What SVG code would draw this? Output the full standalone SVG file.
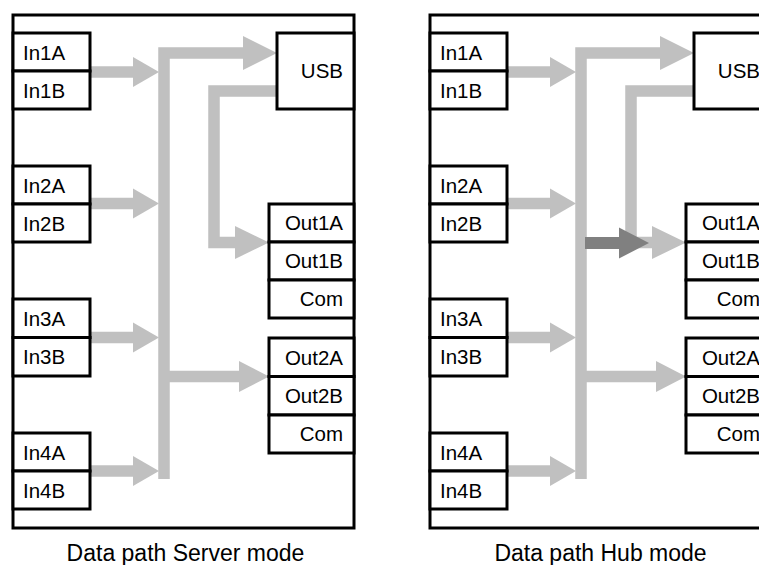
<svg xmlns="http://www.w3.org/2000/svg" width="759" height="565" viewBox="0 0 759 565">
<style>
.frame{fill:#fff;stroke:#000;stroke-width:3}
.box{fill:#fff;stroke:#000;stroke-width:3}
.bus{fill:none;stroke:#c0c0c0;stroke-width:11.5;stroke-linejoin:miter;stroke-linecap:butt}
.head{fill:#c0c0c0}
.dark{fill:none;stroke:#808080;stroke-width:12}
.darkhead{fill:#808080}
.lbl{font-family:"Liberation Sans",Arial,sans-serif;font-size:20.5px;fill:#000}
.end{text-anchor:end}
.cap{font-family:"Liberation Sans",Arial,sans-serif;font-size:23px;fill:#000;text-anchor:middle}
</style>
<rect width="759" height="565" fill="#fff"/>

<!-- Server mode diagram -->
<g id="server">
  <rect class="frame" x="13" y="15" width="341" height="513"/>
  <g id="s-connectors">
    <polyline class="bus" points="164,479 164,53 244,53"/>
    <polygon class="head" points="243,36 277,53 243,70"/>
    <line class="bus" x1="90" y1="72" x2="134" y2="72"/>
    <polygon class="head" points="133,57 159,72 133,87"/>
    <line class="bus" x1="90" y1="203.5" x2="134" y2="203.5"/>
    <polygon class="head" points="133,188.5 159,203.5 133,218.5"/>
    <line class="bus" x1="90" y1="337.5" x2="134" y2="337.5"/>
    <polygon class="head" points="133,322.5 159,337.5 133,352.5"/>
    <line class="bus" x1="90" y1="471" x2="134" y2="471"/>
    <polygon class="head" points="133,456 159,471 133,486"/>
    <line class="bus" x1="164" y1="376.5" x2="240" y2="376.5"/>
    <polygon class="head" points="239,361 269,376.5 239,392"/>
    <polyline class="bus" points="277,91 214,91 214,242.5 236,242.5"/>
    <polygon class="head" points="235,226 269,242.5 235,259"/>
  </g>
  <g id="s-in1"><rect class="box" x="13" y="33" width="77" height="38"/><rect class="box" x="13" y="71" width="77" height="38"/><text class="lbl" x="23" y="59.5">In1A</text><text class="lbl" x="23" y="97.5">In1B</text></g>
  <g id="s-in2"><rect class="box" x="13" y="166" width="77" height="38"/><rect class="box" x="13" y="204" width="77" height="38"/><text class="lbl" x="23" y="192.5">In2A</text><text class="lbl" x="23" y="230.5">In2B</text></g>
  <g id="s-in3"><rect class="box" x="13" y="299" width="77" height="38.5"/><rect class="box" x="13" y="337.5" width="77" height="38.5"/><text class="lbl" x="23" y="325.5">In3A</text><text class="lbl" x="23" y="364">In3B</text></g>
  <g id="s-in4"><rect class="box" x="13" y="433" width="77" height="38"/><rect class="box" x="13" y="471" width="77" height="38"/><text class="lbl" x="23" y="459.5">In4A</text><text class="lbl" x="23" y="497.5">In4B</text></g>
  <g id="s-usb"><rect class="box" x="277" y="33" width="77" height="76"/><text class="lbl end" x="343" y="78">USB</text></g>
  <g id="s-out1"><rect class="box" x="269" y="204" width="85" height="38"/><rect class="box" x="269" y="242" width="85" height="38"/><rect class="box" x="269" y="280" width="85" height="38"/><text class="lbl end" x="343" y="230">Out1A</text><text class="lbl end" x="343" y="268">Out1B</text><text class="lbl end" x="343" y="306">Com</text></g>
  <g id="s-out2"><rect class="box" x="269" y="338" width="85" height="38.5"/><rect class="box" x="269" y="376.5" width="85" height="38.5"/><rect class="box" x="269" y="415" width="85" height="38"/><text class="lbl end" x="343" y="364.5">Out2A</text><text class="lbl end" x="343" y="403">Out2B</text><text class="lbl end" x="343" y="441">Com</text></g>
  <text class="cap" x="185.5" y="561">Data path Server mode</text>
</g>

<!-- Hub mode diagram -->
<g id="hub" transform="translate(417,0)">
  <rect class="frame" x="13" y="15" width="341" height="513"/>
  <g id="h-connectors">
    <polyline class="bus" points="164,479 164,53 244,53"/>
    <polygon class="head" points="243,36 277,53 243,70"/>
    <line class="bus" x1="90" y1="72" x2="134" y2="72"/>
    <polygon class="head" points="133,57 159,72 133,87"/>
    <line class="bus" x1="90" y1="203.5" x2="134" y2="203.5"/>
    <polygon class="head" points="133,188.5 159,203.5 133,218.5"/>
    <line class="bus" x1="90" y1="337.5" x2="134" y2="337.5"/>
    <polygon class="head" points="133,322.5 159,337.5 133,352.5"/>
    <line class="bus" x1="90" y1="471" x2="134" y2="471"/>
    <polygon class="head" points="133,456 159,471 133,486"/>
    <line class="bus" x1="164" y1="376.5" x2="240" y2="376.5"/>
    <polygon class="head" points="239,361 269,376.5 239,392"/>
    <polyline class="bus" points="277,91 214,91 214,242.5 236,242.5"/>
    <polygon class="head" points="235,226 269,242.5 235,259"/>
    <line class="dark" x1="168" y1="243" x2="203" y2="243"/>
    <polygon class="darkhead" points="202,227.5 232,243 202,258.5"/>
  </g>
  <g id="h-in1"><rect class="box" x="13" y="33" width="77" height="38"/><rect class="box" x="13" y="71" width="77" height="38"/><text class="lbl" x="23" y="59.5">In1A</text><text class="lbl" x="23" y="97.5">In1B</text></g>
  <g id="h-in2"><rect class="box" x="13" y="166" width="77" height="38"/><rect class="box" x="13" y="204" width="77" height="38"/><text class="lbl" x="23" y="192.5">In2A</text><text class="lbl" x="23" y="230.5">In2B</text></g>
  <g id="h-in3"><rect class="box" x="13" y="299" width="77" height="38.5"/><rect class="box" x="13" y="337.5" width="77" height="38.5"/><text class="lbl" x="23" y="325.5">In3A</text><text class="lbl" x="23" y="364">In3B</text></g>
  <g id="h-in4"><rect class="box" x="13" y="433" width="77" height="38"/><rect class="box" x="13" y="471" width="77" height="38"/><text class="lbl" x="23" y="459.5">In4A</text><text class="lbl" x="23" y="497.5">In4B</text></g>
  <g id="h-usb"><rect class="box" x="277" y="33" width="77" height="76"/><text class="lbl end" x="343" y="78">USB</text></g>
  <g id="h-out1"><rect class="box" x="269" y="204" width="85" height="38"/><rect class="box" x="269" y="242" width="85" height="38"/><rect class="box" x="269" y="280" width="85" height="38"/><text class="lbl end" x="343" y="230">Out1A</text><text class="lbl end" x="343" y="268">Out1B</text><text class="lbl end" x="343" y="306">Com</text></g>
  <g id="h-out2"><rect class="box" x="269" y="338" width="85" height="38.5"/><rect class="box" x="269" y="376.5" width="85" height="38.5"/><rect class="box" x="269" y="415" width="85" height="38"/><text class="lbl end" x="343" y="364.5">Out2A</text><text class="lbl end" x="343" y="403">Out2B</text><text class="lbl end" x="343" y="441">Com</text></g>
  <text class="cap" x="183.5" y="561">Data path Hub mode</text>
</g>
</svg>
